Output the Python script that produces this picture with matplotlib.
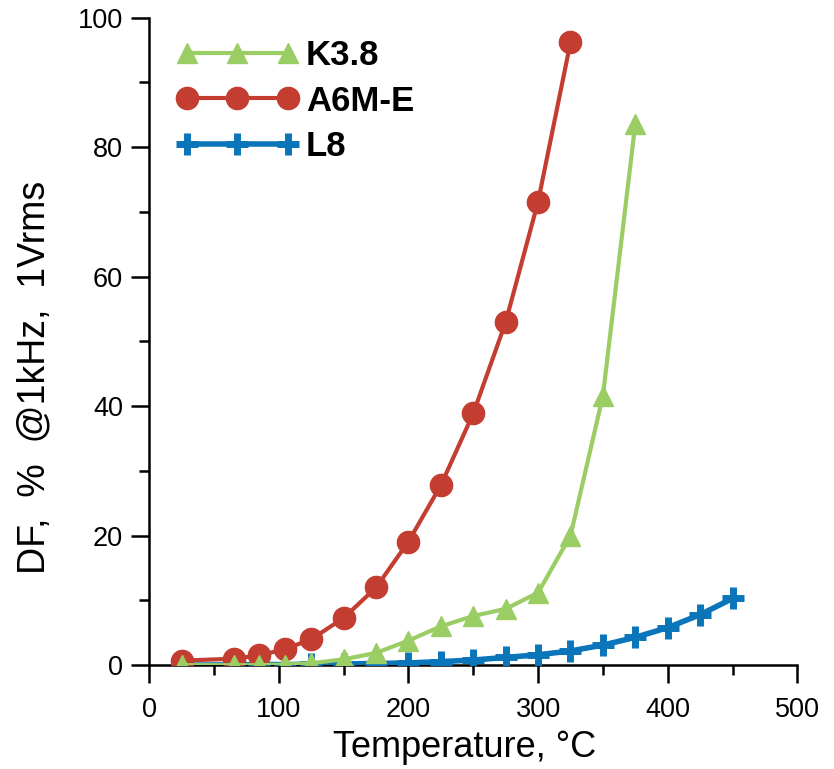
"""
DF vs temperature
"""

import matplotlib
matplotlib.use('Agg')
import matplotlib.pyplot as plt
from matplotlib.ticker import MultipleLocator

plt.rcParams['font.family'] = ['Liberation Sans', 'DejaVu Sans']

# data
temp_k38 = [25, 65, 85, 105, 125, 150, 175, 200, 225, 250, 275, 300, 325, 350, 375]
df_k38 = [0.0, 0.0, 0.0, 0.1, 0.3, 0.9, 1.9, 3.8, 6.0, 7.6, 8.7, 11.2, 20.0, 41.6, 83.6]

temp_a6m = [25, 65, 85, 105, 125, 150, 175, 200, 225, 250, 275, 300, 325]
df_a6m = [0.7, 1.0, 1.5, 2.5, 4.0, 7.3, 12.0, 19.1, 27.8, 38.9, 53.0, 71.6, 96.2]

temp_l8 = [25, 65, 85, 105, 125, 150, 175, 200, 225, 250, 275, 300, 325, 350, 375, 400, 425, 450]
df_l8 = [0.0, 0.05, 0.1, 0.1, 0.15, 0.2, 0.25, 0.35, 0.55, 0.8, 1.2, 1.6, 2.2, 3.1, 4.3, 5.8, 7.8, 10.3]

green = '#9BCD65'
red = '#C43D31'
blue = '#0B75BA'

fig = plt.figure(figsize=(8.34, 7.69), dpi=100)
ax = fig.add_axes([0.179, 0.135, 0.777, 0.842])

ax.plot(temp_l8, df_l8, color=blue, lw=4, marker='+', ms=16, mew=5,
        label='L8', zorder=3)
ax.plot(temp_a6m, df_a6m, color=red, lw=3, marker='o', ms=16,
        label='A6M-E', zorder=4)
ax.plot(temp_k38, df_k38, color=green, lw=3, marker='^', ms=15,
        label='K3.8', zorder=5)

ax.set_xlim(0, 500)
ax.set_ylim(0, 100)
ax.xaxis.set_major_locator(MultipleLocator(100))
ax.xaxis.set_minor_locator(MultipleLocator(50))
ax.yaxis.set_major_locator(MultipleLocator(20))
ax.yaxis.set_minor_locator(MultipleLocator(10))

for s in ['top', 'right']:
    ax.spines[s].set_visible(False)
for s in ['left', 'bottom']:
    ax.spines[s].set_linewidth(1.8)

ax.tick_params(which='major', length=13, width=1.8, direction='out',
               labelsize=19.5)
ax.tick_params(axis='x', which='major', pad=10)
ax.tick_params(axis='y', which='major', pad=6)
ax.tick_params(which='minor', length=7, width=1.8, direction='out')

ax.set_xlabel('Temperature, °C', fontsize=26)
ax.xaxis.set_label_coords(0.486, -0.1)
ax.set_ylabel('DF,  %  @1kHz,  1Vrms', fontsize=27)
ax.yaxis.set_label_coords(-0.15, 0.444)

handles, labels = ax.get_legend_handles_labels()
order = [2, 1, 0]
ax.legend([handles[i] for i in order], [labels[i] for i in order],
          loc='upper left', bbox_to_anchor=(0.042, 0.967), frameon=False,
          borderpad=0, borderaxespad=0,
          numpoints=3, handlelength=3.5, handletextpad=0.22, labelspacing=0.36,
          prop={'size': 25, 'weight': 'bold'})

fig.savefig('out.png', dpi=100)
